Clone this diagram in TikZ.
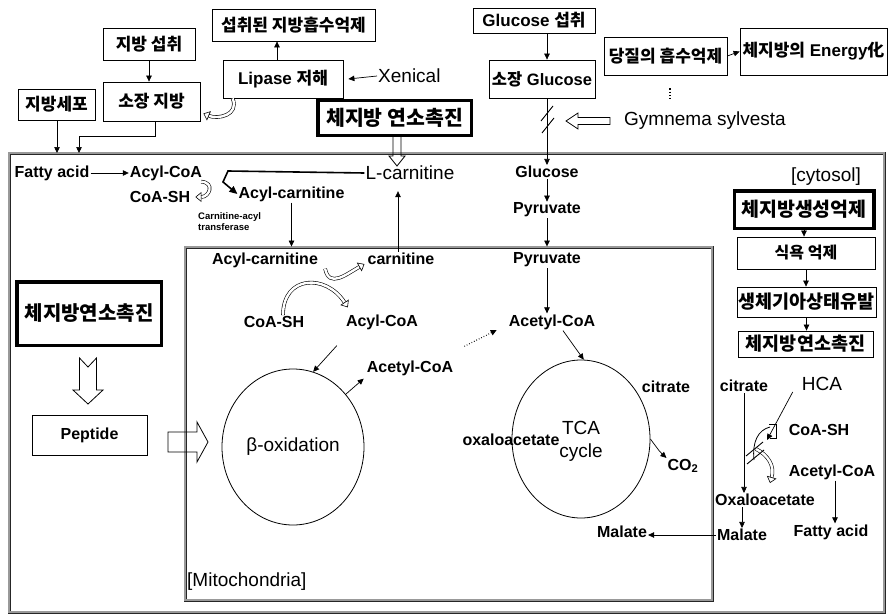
\documentclass[tikz,border=0pt]{standalone}
\usepackage{fontspec}
\setmainfont{Liberation Sans}
\newfontfamily\kr{Noto Sans CJK KR}
\usetikzlibrary{arrows.meta,shapes.geometric}
\tikzset{
 arr/.style={-{Triangle[length=6pt,width=5.5pt]}, line width=0.7pt},
 lbl/.style={font=\bfseries\fontsize{16}{18}\selectfont, inner sep=1pt},
 big/.style={font=\fontsize{19}{22}\selectfont, inner sep=1pt},
 kbox/.style={draw, line width=0.8pt, font=\kr\bfseries\fontsize{17}{19}\selectfont, inner sep=0pt},
 tbox/.style={draw, line width=3.5pt, font=\kr\bfseries\fontsize{20.5}{22}\selectfont, inner sep=0pt},
 cellframe/.style={draw=black!85, line width=0.9pt, double=black!40, double distance=1.2pt, inner sep=0pt},
 hcurve/.style={draw, line width=0.6pt, double=white, double distance=2.4pt, -{Triangle[open,length=6pt,width=10pt]}},
 blockarr/.style={draw, line width=0.8pt, line join=miter},
 slash/.style={line width=0.9pt},
}
\begin{document}
\begin{tikzpicture}[x=1pt,y=-1pt]
\useasboundingbox (0,0) rectangle (888,615);
\fill[white] (0,0) rectangle (888,615);

% frames
\node[cellframe, minimum width=875pt, minimum height=459pt] (cyto) at (446.5,382.5) {};
\node[cellframe, minimum width=527pt, minimum height=353pt] (mito) at (448.5,423.5) {};

% top boxes
\node[kbox, minimum width=92pt, minimum height=32pt] (fatin) at (149,44) {지방 섭취};
\node[kbox, minimum width=97pt, minimum height=39pt] (smfat) at (151.5,101.5) {소장 지방};
\node[kbox, minimum width=77pt, minimum height=31pt] (adipo) at (56.5,104.5) {지방세포};
\node[kbox, minimum width=163pt, minimum height=32pt] (inhib) at (293.5,25) {섭취된 지방흡수억제};
\node[kbox, minimum width=120pt, minimum height=38pt, font=\bfseries\fontsize{17}{19}\selectfont] (lipase) at (283,79) {Lipase {\kr 저해}};
\node[tbox, minimum width=153.5pt, minimum height=34.5pt] (burn1) at (394.5,118) {체지방 연소촉진};
\node[kbox, minimum width=122pt, minimum height=25pt, font=\bfseries\fontsize{17}{19}\selectfont] (gluin) at (534,20.5) {Glucose {\kr 섭취}};
\node[kbox, minimum width=106pt, minimum height=38pt, font=\bfseries\fontsize{16.5}{18}\selectfont] (smglu) at (542,79) {{\kr 소장} Glucose};
\node[kbox, minimum width=123pt, minimum height=38pt] (sugar) at (665.5,56) {당질의 흡수억제};
\node[kbox, minimum width=147pt, minimum height=47pt, font=\bfseries\fontsize{17}{19}\selectfont] (energy) at (813.5,51.5) {{\kr 체지방의} Energy{\kr 化}};
\node[big, anchor=west] (xen) at (377,76) {Xenical};
\node[big, anchor=west] (gym) at (623,121) {Gymnema sylvesta};

\coordinate (fa1) at (57,153);
\coordinate (fa2) at (79,153);
\draw[arr] (fatin.south) -- (fatin.south |- smfat.north);
\draw[arr] (adipo.south -| fa1) -- (fa1);
\draw[arr] ([xshift=4pt]smfat.south) -- ++(0,15) -| (fa2);
\draw[arr] ([xshift=-6pt]lipase.north) -- ([xshift=-6pt]lipase.north |- inhib.south);
\draw[arr] (xen.west) -- ([xshift=5pt]lipase.east);
\draw[hcurve] ([xshift=10pt]lipase.south west) .. controls +(7,17) and +(14,6) .. ([xshift=3pt,yshift=-12pt]smfat.east);
\draw[arr] (sugar.east) -- (energy.west);
\draw[dotted, line width=1.2pt] ([xshift=4.5pt,yshift=-13pt]sugar.south) -- ([xshift=4.5pt,yshift=-23pt]sugar.south);

% hollow block arrows
\draw[blockarr] (393,137) -- (393,156) -- (389,156) -- (397,166) -- (405,156) -- (401,156) -- (401,137);
\draw[blockarr] (610,117.5) -- (578,117.5) -- (578,113) -- (566,121) -- (578,129) -- (578,124.5) -- (610,124.5) -- cycle;

% cytosol labels
\node[lbl] (fa) at (52,173) {Fatty acid};
\node[lbl] (acoac) at (166,173) {Acyl-CoA};
\node[lbl] (coac) at (160,197) {CoA-SH};
\node[big] (lcarn) at (410,173) {L-carnitine};
\node[lbl] (acyc) at (291.5,194) {Acyl-carnitine};
\node[font=\bfseries\fontsize{9.5}{11}\selectfont, align=left, anchor=west, inner sep=0pt] (cat) at (198,222) {Carnitine-acyl\\transferase};
\node[lbl] (glc) at (547,172) {Glucose};
\node[lbl] (pyc) at (547,210) {Pyruvate};
\node[big] (cyt) at (826,177) {[cytosol]};

\draw[arr] (fa.east) -- (acoac.west);
\draw[hcurve] ([xshift=-2pt]acoac.south east) .. controls +(14,1) and +(14,0) .. ([xshift=4pt]coac.east);
\draw[arr, line width=1.6pt, -{Triangle[length=8pt,width=7pt]}] (lcarn.west) -- (228,171) -- (223,182) -- (acyc.west);
\draw[arr] (acyc.south) -- (acyc.south |- mito.north);

% glucose column
\draw[arr] (gluin.south -| glc) -- (smglu.north -| glc);
\draw[arr] (smglu.south -| glc) -- (glc.north);
\draw[slash] (541,121) -- (553,106);
\draw[slash] (542,133) -- (554,118);
\draw[arr] (glc.south) -- (pyc.north);
\draw[arr] (pyc.south) -- (pyc.south |- mito.north);

% mitochondria
\node[lbl] (acm) at (265,260) {Acyl-carnitine};
\node[lbl] (carn) at (401,259) {carnitine};
\node[lbl] (pym) at (547,260) {Pyruvate};
\node[lbl] (coam) at (274,322) {CoA-SH};
\node[lbl] (acoam) at (382,322) {Acyl-CoA};
\node[lbl] (acetr) at (552,322) {Acetyl-CoA};
\node[lbl] (acetm) at (410,368) {Acetyl-CoA};
\node[draw, ellipse, line width=0.8pt, minimum width=142pt, minimum height=156pt, font=\fontsize{19}{22}\selectfont, inner sep=0pt] (box) at (293,447) {β-oxidation};
\node[draw, ellipse, line width=0.8pt, minimum width=138pt, minimum height=158pt, inner sep=0pt] (tca) at (581,439) {};
\node[font=\fontsize{19}{23}\selectfont, align=center, inner sep=0pt] (tcal) at (581,441) {TCA\\cycle};
\node[lbl] (oxm) at (511,440) {oxaloacetate};
\node[lbl] (citm) at (666,387) {citrate};
\node[lbl] (co2) at (683,466) {CO\textsubscript{2}};
\node[lbl] (malm) at (622,532) {Malate};
\node[big, anchor=west] (mitol) at (186,582) {[Mitochondria]};

\draw[arr] ([xshift=-3pt]carn.north) -- ([xshift=-3pt,yshift=-10pt]carn.north |- lcarn.south);
\draw[hcurve] ([xshift=6pt]acm.south east) .. controls +(4,20) and +(-18,10) .. ([xshift=-2pt,yshift=2pt]carn.south west);
\draw[hcurve] ([xshift=9pt]coam.north) .. controls +(0,-40) and +(-22,-34) .. ([xshift=3pt,yshift=6pt]acoam.north west);
\draw[arr] (pym.south) -- (pym.south |- acetr.north);
\draw[arr] ([shift={(-8pt,-15pt)}]acoam.south west) -- (box.75);
\draw[arr] (box.45) -- ([shift={(-2pt,-2pt)}]acetm.south west);
\draw[arr, dotted, line width=1.1pt] ([shift={(10pt,13pt)}]acetm.north east) -- ([shift={(-11pt,-8pt)}]acetr.west);
\draw[arr] ([xshift=11pt]acetr.south) -- (tca.88);
\draw[arr] (tca.east) .. controls (660,452) .. (co2.north west);

% left
\node[tbox, minimum width=144.5pt, minimum height=63.5pt, font=\kr\bfseries\fontsize{20}{22}\selectfont] (burn2) at (89,313.5) {체지방연소촉진};
\draw[blockarr] (79.5,358) -- (88,367) -- (96.5,358) -- (96.5,390) -- (103,390) -- (88,404) -- (73,390) -- (79.5,390) -- cycle;
\node[kbox, minimum width=115pt, minimum height=40pt, font=\bfseries\fontsize{16}{18}\selectfont] (pep) at (89.5,435) {Peptide};
\draw[blockarr] (168,432) -- (197,432) -- (197,422) -- (208,442) -- (197,462) -- (197,452) -- (168,452) -- cycle;

% right column
\node[tbox, minimum width=139.5pt, minimum height=37.5pt, font=\kr\bfseries\fontsize{19.5}{21}\selectfont] (fs) at (804,209.5) {체지방생성억제};
\node[kbox, minimum width=138pt, minimum height=32pt, font=\kr\bfseries\fontsize{16}{18}\selectfont] (app) at (806,253) {식욕 억제};
\node[kbox, minimum width=139pt, minimum height=30pt, font=\kr\bfseries\fontsize{18.5}{20}\selectfont] (starv) at (806.5,302) {생체기아상태유발};
\node[kbox, minimum width=135pt, minimum height=26pt, font=\kr\bfseries\fontsize{18.5}{20}\selectfont] (burn3) at (805.5,344) {체지방연소촉진};
\draw[arr] (fs.south) -- (fs.south |- app.north);
\draw[arr] (app.south) -- (app.south |- starv.north);
\draw[arr] (starv.south) -- (starv.south |- burn3.north);

\node[lbl] (citc) at (744,386) {citrate};
\node[big] (hca) at (822,384) {HCA};
\node[lbl] (cosh) at (819,430) {CoA-SH};
\node[lbl] (acetc) at (832,472) {Acetyl-CoA};
\node[lbl] (oxc) at (765,500) {Oxaloacetate};
\node[lbl] (malc) at (742,535) {Malate};
\node[lbl] (fac) at (831,532) {Fatty acid};
\coordinate (hcat) at (767,440);
\draw[arr] (citc.south) -- (citc.south |- oxc.north);
\draw[arr] (oxc.south -| malc) -- (malc.north);
\draw[arr] ([xshift=-8pt]hca.south west) -- (hcat);
\draw[line width=0.7pt] (769,424) -- (776,424) -- (776,438) -- (770,438);
\draw[line width=0.8pt] (770,427) .. controls (758,430) and (752,442) .. (754,460);
\draw[hcurve] (756,449) .. controls (768,455) and (775,466) .. (770,483);
\draw[slash] (746,456) -- (763,442);
\draw[slash] (747,464) -- (764,450);
\draw[arr] ([xshift=3pt]acetc.south) -- ([xshift=3pt]acetc.south |- fac.north);
\draw[arr] (malc.west) -- (malc.west -| malm.east);
\end{tikzpicture}
\end{document}
